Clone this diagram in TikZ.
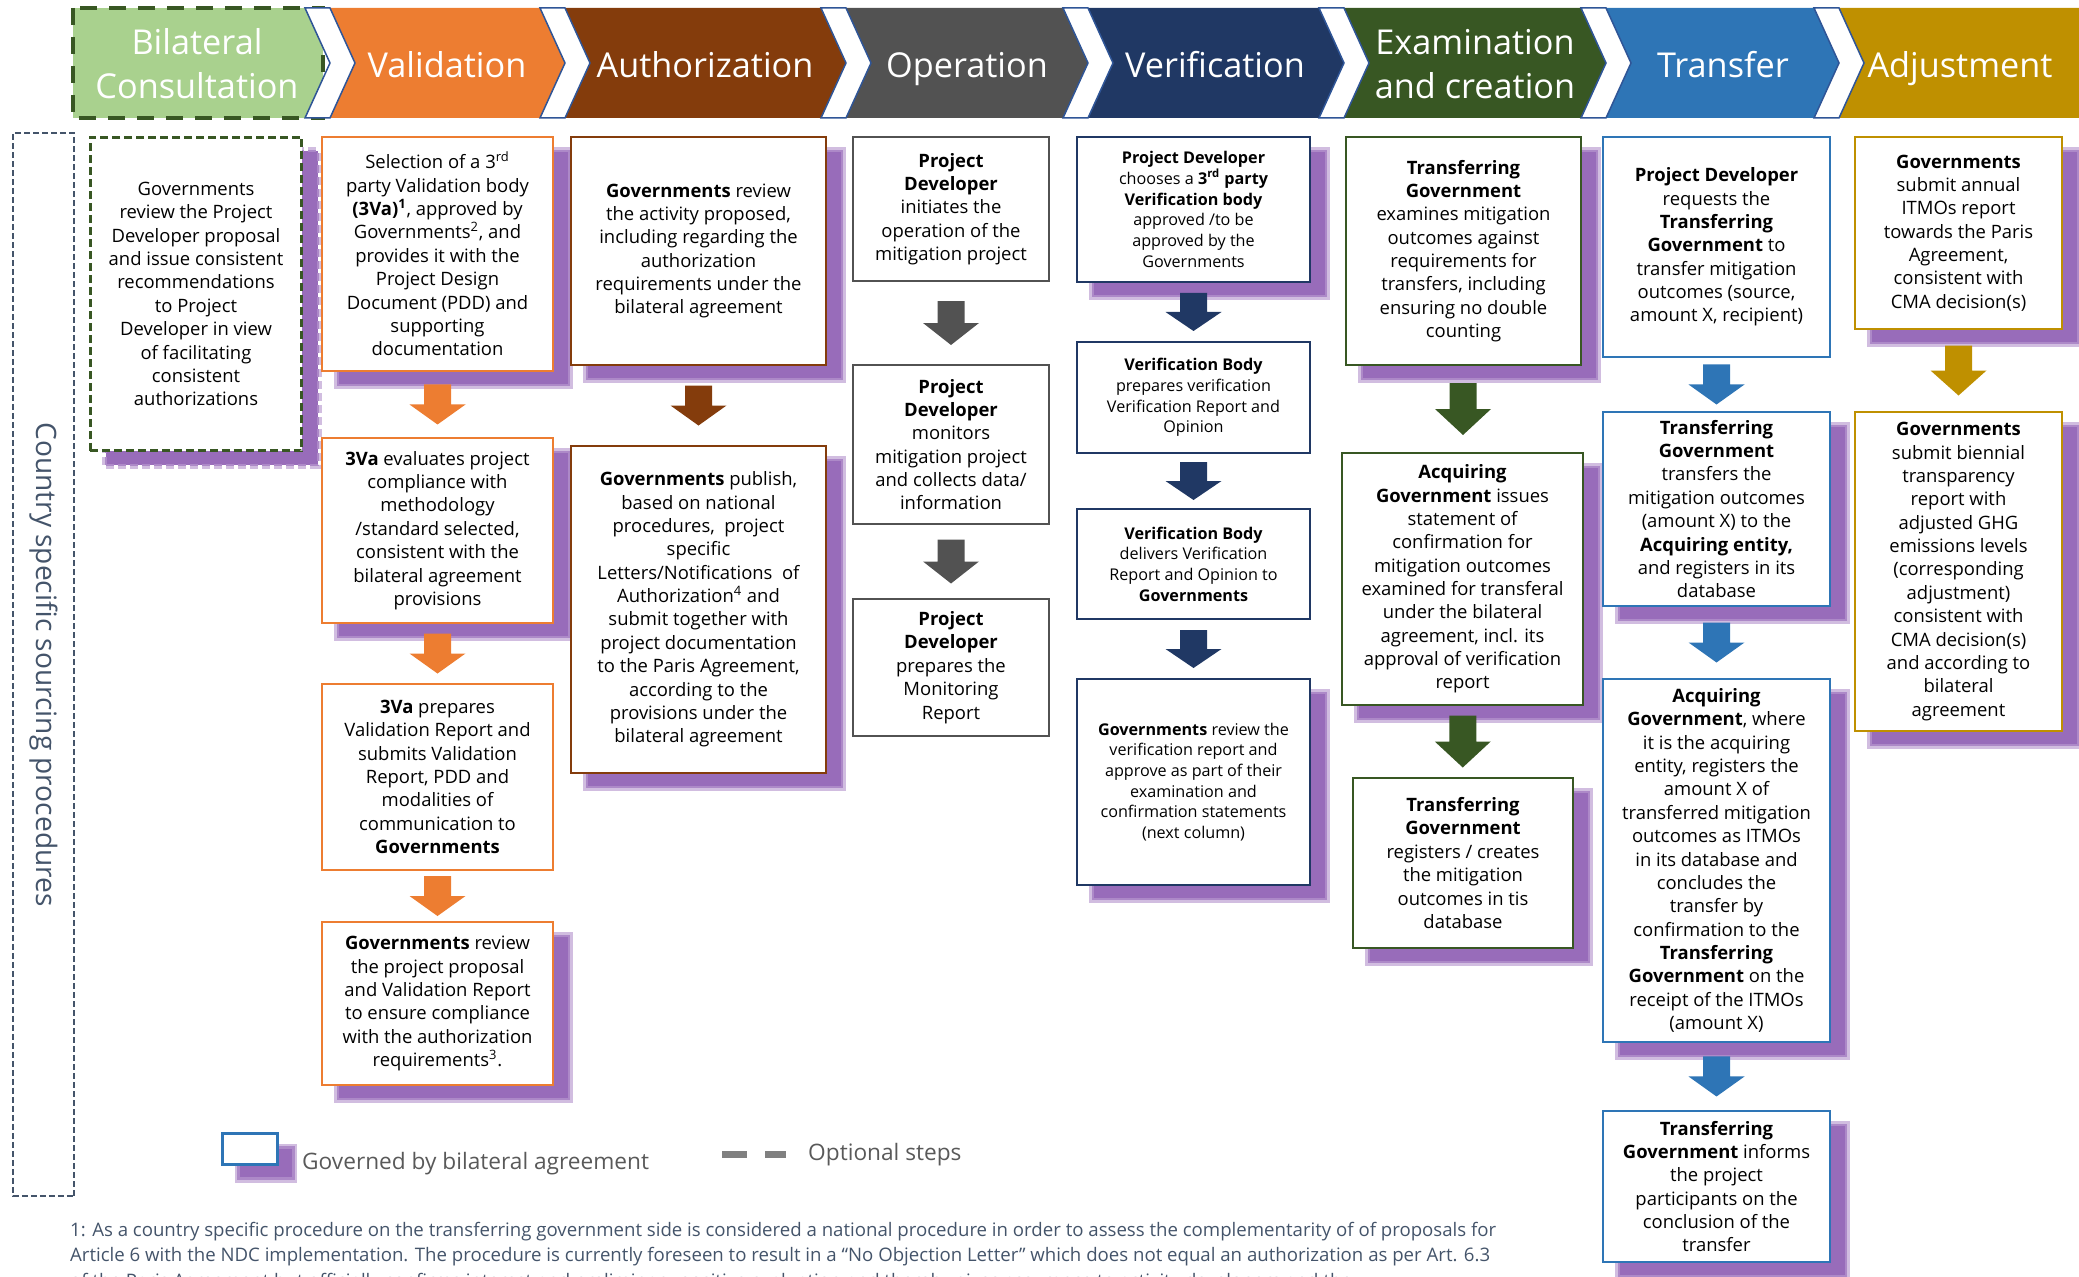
\documentclass[tikz,border=0pt]{standalone}
\usepackage{fontspec}
\setmainfont{Open Sans}
\usepackage{tikz}
\usetikzlibrary{calc, shadows}

\definecolor{bilgreen}{HTML}{A9D18E}
\definecolor{valorange}{HTML}{ED7D31}
\definecolor{autbrown}{HTML}{843C0C}
\definecolor{opgray}{HTML}{525252}
\definecolor{vernavy}{HTML}{203864}
\definecolor{exgreen}{HTML}{385723}
\definecolor{trblue}{HTML}{2E75B6}
\definecolor{adgold}{HTML}{BF9000}
\definecolor{shadepurple}{RGB}{152,108,186}
\definecolor{slate}{HTML}{44546A}
\definecolor{gapblue}{HTML}{2F5597}

% block arrow between two stacked boxes: [length] colour, upper, lower
\newcommand{\flowarrow}[4][40]{%
  \coordinate (fa) at ($(#3.south)!0.5!(#4.north)$);
  \fill[#2] ($(fa)+(-13.5,-#1/2)$) -- ($(fa)+(13.5,-#1/2)$)
    -- ($(fa)+(13.5,0)$) -- ($(fa)+(28,0)$) -- ($(fa)+(0,#1/2)$)
    -- ($(fa)+(-28,0)$) -- ($(fa)+(-13.5,0)$) -- cycle;}

\begin{document}
\begin{tikzpicture}[x=0.02cm, y=-0.02cm,
  stepbox/.style={draw, fill=white, line width=0.055cm, align=center, inner sep=2pt,
    font=\fontsize{10.5}{13.3}\selectfont},
  smallbox/.style={stepbox, font=\fontsize{9.2}{11.8}\selectfont},
  pshadow/.style={
    general shadow={shadow xshift=0.32cm, shadow yshift=-0.28cm, fill=shadepurple!45, draw=shadepurple!45, line width=0.16cm},
    general shadow={shadow xshift=0.32cm, shadow yshift=-0.28cm, fill=shadepurple, draw=shadepurple!80, line width=0.05cm}},
  headtext/.style={text=white, align=center, font=\fontsize{19.5}{25}\selectfont},
  headword/.style={headtext, anchor=base},
  valbox/.style={stepbox, draw=valorange},
  autbox/.style={stepbox, draw=autbrown},
  opbox/.style={stepbox, draw=opgray},
  verbox/.style={smallbox, draw=vernavy},
  exbox/.style={stepbox, draw=exgreen},
  trbox/.style={stepbox, draw=trblue},
  adbox/.style={stepbox, draw=adgold},
  foot/.style={anchor=west, text=slate, font=\fontsize{10.6}{12}\selectfont}]
\useasboundingbox (0,0) rectangle (2079,1277);

% phase bar
\fill[bilgreen] (73,8) rectangle (323,118);
\draw[exgreen, line width=0.09cm, dash pattern=on 0.34cm off 0.24cm] (73,8) rectangle (323,118);
\fill[valorange] (330,8) -- (540,8) -- (565,63) -- (540,118) -- (330,118) -- (355,63) -- cycle;
\fill[autbrown] (565,8) -- (821,8) -- (846,63) -- (821,118) -- (565,118) -- (590,63) -- cycle;
\fill[opgray] (846,8) -- (1063,8) -- (1088,63) -- (1063,118) -- (846,118) -- (871,63) -- cycle;
\fill[vernavy] (1088,8) -- (1319,8) -- (1344,63) -- (1319,118) -- (1088,118) -- (1113,63) -- cycle;
\fill[exgreen] (1344,8) -- (1581,8) -- (1606,63) -- (1581,118) -- (1344,118) -- (1369,63) -- cycle;
\fill[trblue] (1606,8) -- (1814,8) -- (1839,63) -- (1814,118) -- (1606,118) -- (1631,63) -- cycle;
\fill[adgold] (1839,8) -- (2079,8) -- (2079,118) -- (1839,118) -- (1864,63) -- cycle;
\foreach \g in {305,540,821,1063,1319,1581,1814}
  \draw[gapblue, fill=white, line width=0.03cm] (\g,8) -- ++(25,0) -- ++(25,55) -- ++(-25,55) -- ++(-25,0) -- ++(25,-55) -- cycle;

\node[headtext] (hbil) at (197,64) {Bilateral\\Consultation};
\node[headword] (hval) at (447,78) {Validation};
\node[headword] (haut) at (705,78) {Authorization};
\node[headword] (hop) at (967,78) {Operation};
\node[headword] (hver) at (1215,78) {Verification};
\node[headtext] (hex) at (1475,64) {Examination\\and creation};
\node[headword] (htr) at (1723,78) {Transfer};
\node[headword] (had) at (1960,78) {Adjustment};

% country specific frame
\node[draw=slate, line width=0.045cm, dash pattern=on 0.12cm off 0.06cm, rotate=-90,
  minimum width=21.26cm, minimum height=1.22cm, text=slate,
  font=\fontsize{16}{19}\selectfont] (csp) at (43.5,664.5) {Country specific sourcing procedures};

% bilateral consultation
\node[stepbox, draw=exgreen, line width=0.06cm, dash pattern=on 0.16cm off 0.08cm, pshadow,
  minimum width=4.24cm, minimum height=6.28cm] (bil1) at (196,294)
  {Governments\\review the Project\\Developer proposal\\and issue consistent\\recommendations\\to Project\\Developer in view\\of facilitating\\consistent\\authorizations};

% validation
\node[valbox, pshadow, minimum width=4.62cm, minimum height=4.68cm] (val1) at (437.5,254)
  {Selection of a 3\textsuperscript{rd}\\party Validation body\\\textbf{(3Va)}\textsuperscript{\textbf{1}}, approved by\\Governments\textsuperscript{2}, and\\provides it with the\\Project Design\\Document (PDD) and\\supporting\\documentation};
\node[valbox, pshadow, minimum width=4.62cm, minimum height=3.70cm] (val2) at (437.5,530.5)
  {\textbf{3Va} evaluates project\\compliance with\\methodology\\/standard selected,\\consistent with the\\bilateral agreement\\provisions};
\node[valbox, minimum width=4.62cm, minimum height=3.72cm] (val3) at (437.5,777)
  {\textbf{3Va} prepares\\Validation Report and\\submits Validation\\Report, PDD and\\modalities of\\communication to\\\textbf{Governments}};
\node[valbox, pshadow, minimum width=4.62cm, minimum height=3.26cm] (val4) at (437.5,1003.5)
  {\textbf{Governments} review\\the project proposal\\and Validation Report\\to ensure compliance\\with the authorization\\requirements\textsuperscript{3}.};
\flowarrow{valorange}{val1}{val2}
\flowarrow{valorange}{val2}{val3}
\flowarrow{valorange}{val3}{val4}

% authorization
\node[autbox, pshadow, minimum width=5.10cm, minimum height=4.56cm] (aut1) at (698.5,251)
  {\textbf{Governments} review\\the activity proposed,\\including regarding the\\authorization\\requirements under the\\bilateral agreement};
\node[autbox, pshadow, minimum width=5.10cm, minimum height=6.54cm] (aut2) at (698.5,609.5)
  {\textbf{Governments} publish,\\based on national\\procedures,\ \ project\\specific\\Letters/Notifications\ \ of\\Authorization\textsuperscript{4} and\\submit together with\\project documentation\\to the Paris Agreement,\\according to the\\provisions under the\\bilateral agreement};
\flowarrow{autbrown}{aut1}{aut2}

% operation
\node[opbox, minimum width=3.92cm, minimum height=2.88cm] (op1) at (951,209)
  {\textbf{Project}\\\textbf{Developer}\\initiates the\\operation of the\\mitigation project};
\node[opbox, minimum width=3.92cm, minimum height=3.18cm] (op2) at (951,444.5)
  {\textbf{Project}\\\textbf{Developer}\\monitors\\mitigation project\\and collects data/\\information};
\node[opbox, minimum width=3.92cm, minimum height=2.74cm] (op3) at (951,667.5)
  {\textbf{Project}\\\textbf{Developer}\\prepares the\\Monitoring\\Report};
\flowarrow[44]{opgray}{op1}{op2}
\flowarrow[44]{opgray}{op2}{op3}

% verification
\node[verbox, pshadow, minimum width=4.66cm, minimum height=2.90cm] (ver1) at (1193.5,209.5)
  {\textbf{Project Developer}\\chooses a \textbf{3\textsuperscript{rd} party}\\\textbf{Verification body}\\approved /to be\\approved by the\\Governments};
\node[verbox, minimum width=4.66cm, minimum height=2.22cm] (ver2) at (1193.5,397.5)
  {\textbf{Verification Body}\\prepares verification\\Verification Report and\\Opinion};
\node[verbox, minimum width=4.66cm, minimum height=2.20cm] (ver3) at (1193.5,564)
  {\textbf{Verification Body}\\delivers Verification\\Report and Opinion to\\\textbf{Governments}};
\node[verbox, pshadow, minimum width=4.66cm, minimum height=4.12cm] (ver4) at (1193.5,782)
  {\textbf{Governments} review the\\verification report and\\approve as part of their\\examination and\\confirmation statements\\(next column)};
\flowarrow[38]{vernavy}{ver1}{ver2}
\flowarrow[38]{vernavy}{ver2}{ver3}
\flowarrow[38]{vernavy}{ver3}{ver4}

% examination and creation
\node[exbox, pshadow, minimum width=4.70cm, minimum height=4.56cm] (ex1) at (1463.5,251)
  {\textbf{Transferring}\\\textbf{Government}\\examines mitigation\\outcomes against\\requirements for\\transfers, including\\ensuring no double\\counting};
\node[exbox, pshadow, minimum width=4.82cm, minimum height=5.04cm] (ex2) at (1462.5,579)
  {\textbf{Acquiring}\\\textbf{Government} issues\\statement of\\confirmation for\\mitigation outcomes\\examined for transferal\\under the bilateral\\agreement, incl. its\\approval of verification\\report};
\node[exbox, pshadow, minimum width=4.40cm, minimum height=3.40cm] (ex3) at (1463,863)
  {\textbf{Transferring}\\\textbf{Government}\\registers / creates\\the mitigation\\outcomes in tis\\database};
\flowarrow[52]{exgreen}{ex1}{ex2}
\flowarrow[52]{exgreen}{ex2}{ex3}

% transfer
\node[trbox, minimum width=4.54cm, minimum height=4.40cm] (tr1) at (1716.5,247)
  {\textbf{Project Developer}\\requests the\\\textbf{Transferring}\\\textbf{Government} to\\transfer mitigation\\outcomes (source,\\amount X, recipient)};
\node[trbox, pshadow, minimum width=4.54cm, minimum height=3.88cm] (tr2) at (1716.5,509)
  {\textbf{Transferring}\\\textbf{Government}\\transfers the\\mitigation outcomes\\(amount X) to the\\\textbf{Acquiring entity,}\\and registers in its\\database};
\node[trbox, pshadow, minimum width=4.54cm, minimum height=7.26cm] (tr3) at (1716.5,860.5)
  {\textbf{Acquiring}\\\textbf{Government}, where\\it is the acquiring\\entity, registers the\\amount X of\\transferred mitigation\\outcomes as ITMOs\\in its database and\\concludes the\\transfer by\\confirmation to the\\\textbf{Transferring}\\\textbf{Government} on the\\receipt of the ITMOs\\(amount X)};
\node[trbox, pshadow, minimum width=4.54cm, minimum height=3.02cm] (tr4) at (1716.5,1186.5)
  {\textbf{Transferring}\\\textbf{Government} informs\\the project\\participants on the\\conclusion of the\\transfer};
\flowarrow{trblue}{tr1}{tr2}
\flowarrow{trblue}{tr2}{tr3}
\flowarrow{trblue}{tr3}{tr4}

% adjustment
\node[adbox, pshadow, minimum width=4.14cm, minimum height=3.84cm] (ad1) at (1958.5,233)
  {\textbf{Governments}\\submit annual\\ITMOs report\\towards the Paris\\Agreement,\\consistent with\\CMA decision(s)};
\node[adbox, pshadow, minimum width=4.14cm, minimum height=6.38cm] (ad2) at (1958.5,571.5)
  {\textbf{Governments}\\submit biennial\\transparency\\report with\\adjusted GHG\\emissions levels\\(corresponding\\adjustment)\\consistent with\\CMA decision(s)\\and according to\\bilateral\\agreement};
\flowarrow[50]{adgold}{ad1}{ad2}

% legend
\node[draw=trblue, line width=0.06cm, fill=white, pshadow, minimum width=1.10cm, minimum height=0.62cm] (legbox) at (250,1149) {};
\node[anchor=west, text=black!65, font=\fontsize{12.9}{15}\selectfont] (legbilat) at (296,1164) {Governed by bilateral agreement};
\coordinate (dasha) at (722,1154);
\coordinate (dashb) at (786,1154);
\draw[black!50, line width=0.14cm, dash pattern=on 0.5cm off 0.36cm] (dasha) -- (dashb);
\node[anchor=west, text=black!65, font=\fontsize{12.9}{15}\selectfont] (legopt) at (802,1155) {Optional steps};

% footnote
\node[foot] (fn1) at (64,1232)
  {1: As a country specific procedure on the transferring government side is considered a national procedure in order to assess the complementarity of of proposals for};
\node[foot] (fn2) at (64,1257)
  {Article 6 with the NDC implementation. The procedure is currently foreseen to result in a “No Objection Letter” which does not equal an authorization as per Art. 6.3};
\node[foot] (fn3) at (64,1283)
  {of the Paris Agreement but officially confirms interest and preliminary positive evaluation and thereby gives assurance to activity developers and the};
\end{tikzpicture}
\end{document}
